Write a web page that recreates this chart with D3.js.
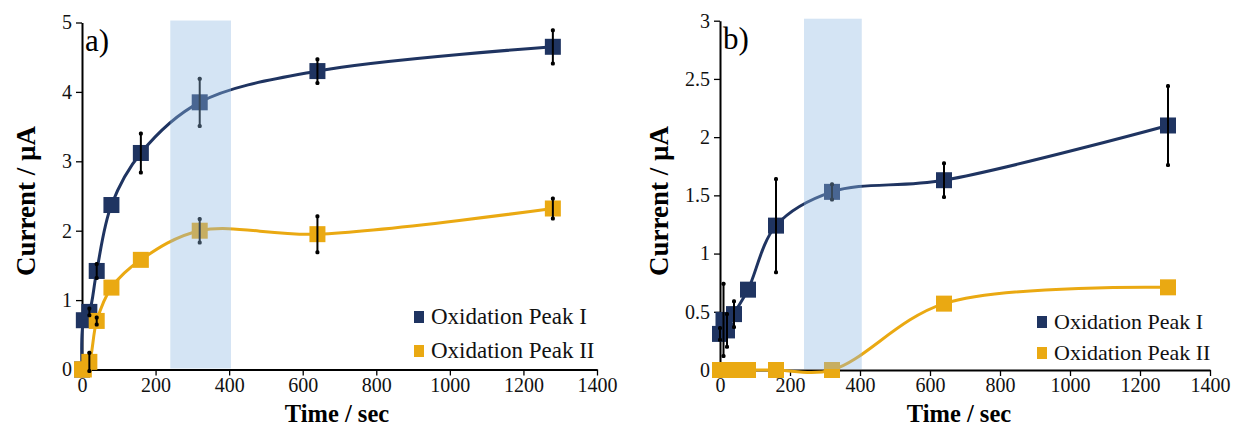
<!DOCTYPE html>
<html><head><meta charset="utf-8">
<script src="https://cdn.jsdelivr.net/npm/d3@7"></script>
<style>body{margin:0;background:#fff}svg{display:block}svg text{font-family:"Liberation Serif","Times New Roman",Times,"DejaVu Serif",serif !important}</style>
</head><body>
<svg id="c" width="1233" height="428"></svg>
<script>
// ---- data ----
const timeA = [0, 5, 20, 40, 80, 160, 320, 640, 1280];
const peakI_A = [0, 0.71, 0.83, 1.42, 2.37, 3.12, 3.85, 4.30, 4.65];
const peakI_A_err = [0, 0, 0.05, 0.1, 0, 0.28, 0.34, 0.17, 0.24];
const peakII_A = [0, 0, 0.11, 0.70, 1.18, 1.58, 2.00, 1.95, 2.32];
const peakII_A_err = [0, 0, 0.13, 0.05, 0, 0, 0.17, 0.26, 0.145];

const timeB = [0, 10, 20, 40, 80, 160, 320, 640, 1280];
const peakI_B = [0.31, 0.43, 0.34, 0.48, 0.69, 1.24, 1.53, 1.63, 2.10];
const peakI_B_err = [0.05, 0.31, 0.14, 0.11, 0, 0.40, 0.065, 0.145, 0.34];
const peakII_B = [0, 0, 0, 0, 0, 0, 0, 0.57, 0.71];
const peakII_B_err = [0, 0, 0, 0, 0, 0, 0, 0, 0];

const xTicks = [0, 200, 400, 600, 800, 1000, 1200, 1400];
const yTicksA = [0, 1, 2, 3, 4, 5];
const yTicksB = [0, 0.5, 1, 1.5, 2, 2.5, 3];
const shadeRange = [240, 405];
const seriesNames = ["Oxidation Peak I", "Oxidation Peak II"];
const panelLabels = ["a)", "b)"];

// ---- drawing ----
const svg = d3.select("#c");
const BLUE = "#1f3461", ORANGE = "#eaa912";
const SERIF = '"Liberation Serif","Times New Roman",Times,serif';

function panel(cfg) {
  const x = d3.scaleLinear().domain([0, 1400]).range([cfg.x0, cfg.x1]);
  const y = d3.scaleLinear().domain([0, cfg.ymax]).range([cfg.yb, cfg.yt]);
  const g = svg.append("g");

  const series = [
    {t: cfg.t, v: cfg.s1, e: cfg.e1, c: BLUE},
    {t: cfg.t, v: cfg.s2, e: cfg.e2, c: ORANGE}
  ];
  const line = d3.line().x(d => x(d[0])).y(d => y(d[1])).curve(d3.curveCatmullRom.alpha(0.5));

  // axes
  const xa = g.append("g").attr("transform", `translate(0,${cfg.yb})`)
    .call(d3.axisBottom(x).tickValues(xTicks).tickSize(6).tickSizeOuter(0).tickFormat(d3.format("d")));
  const ya = g.append("g").attr("transform", `translate(${cfg.x0},0)`)
    .call(d3.axisLeft(y).tickValues(cfg.yTicks).tickSize(6).tickSizeOuter(0).tickFormat(d => String(d)));
  [xa, ya].forEach(a => {
    a.attr("font-family", SERIF);
    a.select(".domain").attr("stroke", "#000").attr("stroke-width", 2);
    a.selectAll(".tick line").attr("stroke", "#000").attr("stroke-width", 1.3);
    a.selectAll(".tick text").attr("font-family", SERIF).attr("font-size", 20).attr("fill", "#111");
  });
  xa.selectAll(".tick text").attr("dy", "0.95em").attr("y", 3);
  ya.selectAll(".tick text").attr("x", -10);

  // lines
  series.forEach(s => {
    g.append("path").datum(s.t.map((t, i) => [t, s.v[i]]))
      .attr("d", line).attr("fill", "none").attr("stroke", s.c).attr("stroke-width", 3);
  });
  // markers
  series.forEach(s => {
    g.selectAll(null).data(s.t.map((t, i) => [t, s.v[i]])).enter().append("rect")
      .attr("x", d => x(d[0]) - 8).attr("y", d => y(d[1]) - 8)
      .attr("width", 16).attr("height", 16).attr("fill", s.c);
  });
  // error bars
  series.forEach(s => {
    const d = s.t.map((t, i) => [t, s.v[i], s.e[i]]).filter(d => d[2] > 0);
    g.selectAll(null).data(d).enter().append("line")
      .attr("x1", d => x(d[0])).attr("x2", d => x(d[0]))
      .attr("y1", d => y(d[1] - d[2])).attr("y2", d => y(d[1] + d[2]))
      .attr("stroke", "#000").attr("stroke-width", 2);
    ["-", "+"].forEach(sg => {
      g.selectAll(null).data(d).enter().append("rect")
        .attr("x", d => x(d[0]) - 2)
        .attr("y", d => y(sg === "+" ? d[1] + d[2] : d[1] - d[2]) - 2)
        .attr("width", 4).attr("height", 4).attr("rx", 1.5).attr("fill", "#000");
    });
  });
  // shaded overlay
  g.append("rect").attr("x", x(shadeRange[0])).attr("width", x(shadeRange[1]) - x(shadeRange[0]))
    .attr("y", cfg.yt - 2).attr("height", cfg.yb - cfg.yt + 1)
    .attr("fill", "rgb(143,185,226)").attr("opacity", 0.38);

  // labels
  g.append("text").attr("x", cfg.x0 + 3).attr("y", cfg.yt + 28).attr("font-family", SERIF)
    .attr("font-size", 31).text(cfg.label);
  g.append("text").attr("x", cfg.xTitleX).attr("y", 422).attr("text-anchor", "middle")
    .attr("font-family", SERIF).attr("font-size", 24.5).attr("font-weight", "bold").text("Time / sec");
  g.append("text").attr("transform", `translate(${cfg.yTitleX},201) rotate(-90)`)
    .attr("text-anchor", "middle").attr("font-family", SERIF).attr("font-size", 27)
    .attr("font-weight", "bold").text("Current / µA");

  // legend
  [BLUE, ORANGE].forEach((c, i) => {
    const ly = cfg.legY + i * cfg.legGap;
    g.append("rect").attr("x", cfg.legX).attr("y", ly - 6).attr("width", 10).attr("height", 12).attr("fill", c);
    g.append("text").attr("x", cfg.legX + 17).attr("y", ly + 7).attr("font-family", SERIF)
      .attr("font-size", cfg.legFont).attr("fill", "#111").text(seriesNames[i]);
  });
}

panel({x0: 82, x1: 597, yb: 369.5, yt: 22.5, ymax: 5, yTicks: yTicksA,
  t: timeA, s1: peakI_A, e1: peakI_A_err, s2: peakII_A, e2: peakII_A_err,
  label: panelLabels[0], legX: 414, legY: 317, legGap: 34, legFont: 23,
  xTitleX: 337, yTitleX: 35});
panel({x0: 720, x1: 1210, yb: 370, yt: 20.7, ymax: 3, yTicks: yTicksB,
  t: timeB, s1: peakI_B, e1: peakI_B_err, s2: peakII_B, e2: peakII_B_err,
  label: panelLabels[1], legX: 1037, legY: 322, legGap: 31, legFont: 22,
  xTitleX: 959, yTitleX: 668});
</script>
</body></html>
